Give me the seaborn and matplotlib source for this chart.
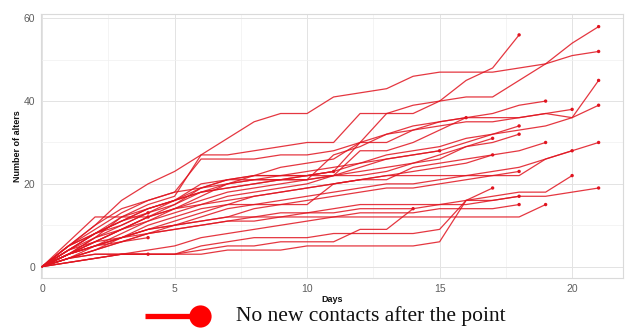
import numpy as np
import pandas as pd
import seaborn as sns
import matplotlib.pyplot as plt
from matplotlib.lines import Line2D

# Cumulative number of alters reported per participant, one value per day
alters = [
    [0, 5, 10, 16, 20, 23, 27, 31, 35, 37, 37, 41, 42, 43, 46, 47, 47, 47, 48, 49, 51, 52],
    [0, 3, 7, 12, 15, 17, 27, 27, 28, 29, 30, 30, 37, 37, 37, 40, 45, 48, 56],
    [0, 4, 8, 12, 14, 16, 18, 19, 20, 21, 22, 23, 30, 37, 39, 40, 41, 41, 45, 49, 54, 58],
    [0, 3, 6, 9, 12, 15, 18, 20, 21, 22, 22, 22, 28, 28, 30, 33, 36, 36, 36, 37, 36, 45],
    [0, 2, 5, 8, 11, 14, 17, 20, 22, 24, 25, 26, 30, 30, 33, 35, 36, 37, 39, 40],
    [0, 4, 8, 11, 13, 15, 19, 21, 22, 22, 22, 23, 25, 27, 28, 29, 31, 32, 33, 34, 36, 39],
    [0, 3, 7, 10, 13, 16, 20, 21, 21, 21, 21, 27, 29, 32, 33, 34, 35, 35, 36, 37, 38],
    [0, 5, 9, 13, 16, 18, 26, 26, 26, 27, 27, 28, 30, 32, 34, 35, 36],
    [0, 6, 12, 12, 12, 14, 15, 17, 18, 19, 20, 22, 24, 26, 27, 28, 30, 32, 34],
    [0, 5, 8, 11, 14, 16, 18, 19, 20, 21, 21, 22, 23, 24, 25, 27, 29, 30, 32],
    [0, 3, 6, 9, 12, 14, 16, 18, 19, 20, 21, 22, 22, 23, 25, 26, 29, 31],
    [0, 2, 4, 7, 10, 12, 14, 15, 15, 15, 15, 20, 21, 21, 24, 25, 26, 27, 28, 30],
    [0, 3, 5, 7, 9, 11, 13, 15, 17, 18, 19, 20, 21, 22, 22, 22, 22, 22, 22, 26, 28, 30],
    [0, 4, 8, 11, 14, 16, 19, 21, 22, 22, 23, 24, 25, 26, 27, 28],
    [0, 4, 7, 9, 11, 13, 15, 16, 17, 18, 19, 20, 21, 22, 23, 24, 25, 27],
    [0, 2, 4, 6, 8, 10, 12, 14, 15, 16, 17, 18, 19, 20, 20, 21, 22, 23, 24, 26, 28],
    [0, 3, 5, 7, 9, 10, 11, 12, 14, 15, 16, 17, 18, 19, 19, 20, 21, 22, 23],
    [0, 5, 10, 14, 16, 18, 19, 20, 21, 21, 22, 23],
    [0, 1, 2, 3, 3, 3, 3, 4, 4, 4, 5, 5, 5, 5, 5, 6, 16, 19],
    [0, 2, 3, 3, 3, 3, 5, 6, 7, 7, 7, 8, 8, 8, 8, 9, 16, 17, 18, 18, 22],
    [0, 3, 5, 7, 9, 10, 11, 12, 12, 13, 13, 14, 15, 15, 15, 15, 16, 16, 17, 17, 18, 19],
    [0, 2, 4, 6, 8, 9, 10, 11, 12, 12, 13, 13, 14, 14, 14, 15, 15, 16, 17],
    [0, 4, 6, 7, 8, 9, 10, 11, 11, 12, 12, 12, 13, 13, 13, 14, 14, 14, 15],
    [0, 1, 2, 3, 4, 5, 7, 8, 9, 10, 11, 12, 12, 12, 12, 12, 12, 12, 12, 15],
    [0, 2, 3, 3, 3, 3, 4, 5, 5, 6, 6, 6, 9, 9, 14],
    [0, 5, 8, 10, 13],
    [0, 3, 5, 6, 7],
    [0, 1, 2, 3, 3],
    [0, 3, 6, 9, 12],
]

x_ticks = [0, 5, 10, 15, 20]
y_ticks = [0, 20, 40, 60]
legend_text = "No new contacts after the point"

rows = []
for pid, series in enumerate(alters):
    for day, n in enumerate(series):
        rows.append({"id": pid, "day": day, "alters": n})
df = pd.DataFrame(rows)
last = df.loc[df.groupby("id")["day"].idxmax()]

sns.set_theme(style="white")
plt.rcParams["font.family"] = ["Liberation Sans", "DejaVu Sans"]

red = "#E0141F"
fig, ax = plt.subplots(figsize=(6.25, 3.29), dpi=100)
fig.subplots_adjust(left=41 / 625, right=623 / 625, top=1 - 14 / 329, bottom=1 - 278 / 329)

sns.lineplot(data=df, x="day", y="alters", units="id", estimator=None,
             color=red, linewidth=0.9, alpha=0.85, ax=ax, zorder=3)
sns.scatterplot(data=last, x="day", y="alters", color=red, s=6,
                edgecolor="none", ax=ax, zorder=4)

ax.set_xlim(-0.04, 21.92)
ax.set_ylim(-2.75, 61.05)
ax.set_xticks(x_ticks)
ax.set_yticks(y_ticks)
ax.set_xticks([2.5, 7.5, 12.5, 17.5], minor=True)
ax.set_yticks([10, 30, 50], minor=True)
ax.grid(which="major", color="#E3E3E3", linewidth=0.7, zorder=0)
ax.grid(which="minor", color="#F0F0F0", linewidth=0.5, zorder=0)
ax.set_axisbelow(True)
for s in ax.spines.values():
    s.set_visible(True)
    s.set_color("#DADADA")
    s.set_linewidth(0.8)

ax.tick_params(axis="both", which="major", length=2, width=0.6, color="#BBBBBB",
               labelsize=7.5, labelcolor="#5E5E5E", pad=2)
ax.tick_params(axis="both", which="minor", length=0)
ax.set_xlabel("Days", fontsize=6.5, fontweight="bold", color="#111111", labelpad=1)
ax.set_ylabel("Number of alters", fontsize=6.5, fontweight="bold", color="#111111", labelpad=1.5)

# Legend key drawn below the panel
fig.add_artist(Line2D([145 / 625, 199 / 625], [1 - 316 / 329, 1 - 316 / 329],
                      color="#FF0000", linewidth=3.8, solid_capstyle="butt"))
fig.add_artist(Line2D([200 / 625], [1 - 316 / 329], marker="o", markersize=16,
                      color="#FF0000", markeredgewidth=0))
fig.text(236 / 625, 1 - 316 / 329, legend_text, fontsize=15.5,
         family=["Liberation Serif", "DejaVu Serif"], color="#111111", va="center", ha="left")

fig.savefig("out.png", dpi=100)
